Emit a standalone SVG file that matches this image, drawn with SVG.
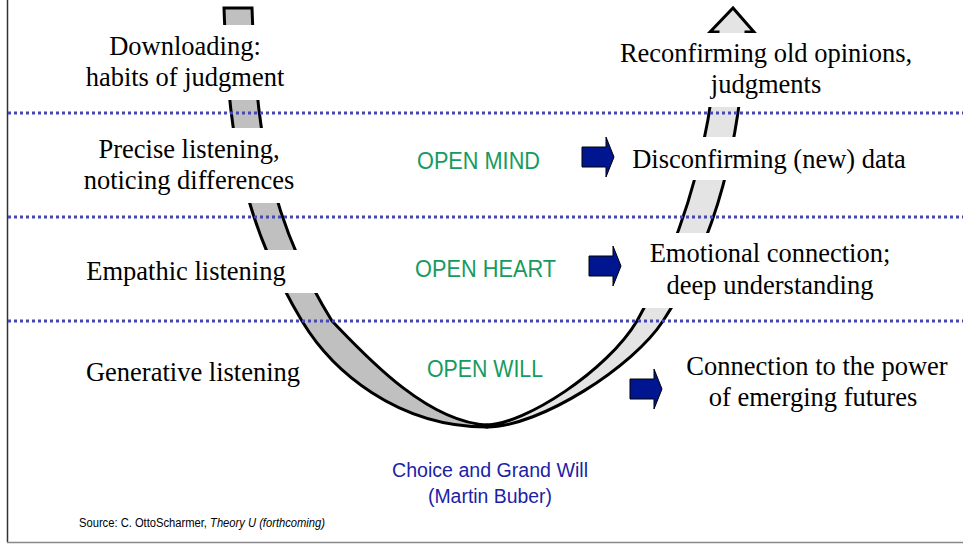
<svg xmlns="http://www.w3.org/2000/svg" width="963" height="544" viewBox="0 0 963 544">
<style>
.serif{font-family:"Liberation Serif","Times New Roman",serif;font-size:26.5px;fill:#000;text-anchor:middle}
.green{font-family:"Liberation Sans Narrow","Liberation Sans",Arial,sans-serif;font-size:24px;fill:#179a5e;text-anchor:middle}
.blue{font-family:"Liberation Sans Narrow","Liberation Sans",Arial,sans-serif;font-size:20px;fill:#1c22a6;text-anchor:middle}
.src{font-family:"Liberation Sans Narrow","Liberation Sans",Arial,sans-serif;font-size:12.5px;fill:#000}
.dot{stroke:#4646b4;stroke-width:3;stroke-dasharray:3 3;fill:none}
.band{stroke:#000;stroke-width:3;stroke-linejoin:miter}
.barrow{fill:#001690;stroke:#000;stroke-width:1}
.wbox{fill:#fff}
</style>
<defs>
<path id="blk" d="M0,-10 H24 V-20 L32,0 L24,20 V10 H0 Z"/>
</defs>
<rect width="963" height="544" fill="#fff"/>
<g id="frame">
<line x1="7.5" y1="0" x2="7.5" y2="542" stroke="#333" stroke-width="1.5"/>
<line x1="7" y1="542.5" x2="963" y2="542.5" stroke="#888" stroke-width="1.5"/>
</g>
<g id="u-shape">
<path id="left-arm" class="band" fill="#c0c0c0" d="M224,8 C228,118 236,211 302,321 C332,371 397,427 487,427 L487,425 C425,422 362,352 332,321 C264,211 256,118 252,8 Z"/>
<path id="right-arm" class="band" fill="#e4e4e4" d="M487,425 C525,424 607,371 637,321 C685,235 712,140 718,32 L710,32 L733,8 L754,32 L746,32 C740,140 718,238 663,321 C634,366 540,427 487,427 Z"/>
</g>
<g id="levels">
<line class="dot" x1="8" y1="113" x2="963" y2="113"/>
<line class="dot" x1="8" y1="217" x2="963" y2="217"/>
<line class="dot" x1="8" y1="321" x2="963" y2="321"/>
</g>
<g id="label-boxes">
<rect class="wbox" x="80" y="25" width="215" height="75"/>
<rect class="wbox" x="78" y="128" width="225" height="75"/>
<rect class="wbox" x="80" y="250" width="245" height="43"/>
<rect class="wbox" x="612" y="33" width="305" height="74"/>
<rect class="wbox" x="628" y="137" width="285" height="43"/>
<rect class="wbox" x="628" y="233" width="270" height="75"/>
</g>
<g id="node-downloading"><text class="serif" x="185" y="55">Downloading:</text><text class="serif" x="185" y="86">habits of judgment</text></g>
<g id="node-precise"><text class="serif" x="189" y="158">Precise listening,</text><text class="serif" x="189" y="189">noticing differences</text></g>
<g id="node-empathic"><text class="serif" x="186" y="280">Empathic listening</text></g>
<g id="node-generative"><text class="serif" x="193" y="381">Generative listening</text></g>
<g id="node-reconfirming"><text class="serif" x="766" y="62">Reconfirming old opinions,</text><text class="serif" x="766" y="93">judgments</text></g>
<g id="node-disconfirming"><text class="serif" x="769" y="168">Disconfirming (new) data</text></g>
<g id="node-emotional"><text class="serif" x="770" y="262">Emotional connection;</text><text class="serif" x="770" y="294">deep understanding</text></g>
<g id="node-connection"><text class="serif" x="817" y="375">Connection to the power</text><text class="serif" x="813" y="406">of emerging futures</text></g>
<g id="node-open-mind"><text class="green" x="478.5" y="169" textLength="123" lengthAdjust="spacingAndGlyphs">OPEN MIND</text></g>
<g id="node-open-heart"><text class="green" x="485.5" y="277" textLength="141" lengthAdjust="spacingAndGlyphs">OPEN HEART</text></g>
<g id="node-open-will"><text class="green" x="485" y="377" textLength="116" lengthAdjust="spacingAndGlyphs">OPEN WILL</text></g>
<g id="connectors">
<use href="#blk" class="barrow" transform="translate(582,157)"/>
<use href="#blk" class="barrow" transform="translate(589,266)"/>
<use href="#blk" class="barrow" transform="translate(630,389)"/>
</g>
<g id="node-choice"><text class="blue" x="490" y="477" textLength="196" lengthAdjust="spacingAndGlyphs">Choice and Grand Will</text><text class="blue" x="490" y="503" textLength="124" lengthAdjust="spacingAndGlyphs">(Martin Buber)</text></g>
<g id="source">
<text class="src" x="79" y="527" textLength="246" lengthAdjust="spacingAndGlyphs">Source: C. OttoScharmer, <tspan font-style="italic">Theory U (forthcoming)</tspan></text>
</g>
</svg>
